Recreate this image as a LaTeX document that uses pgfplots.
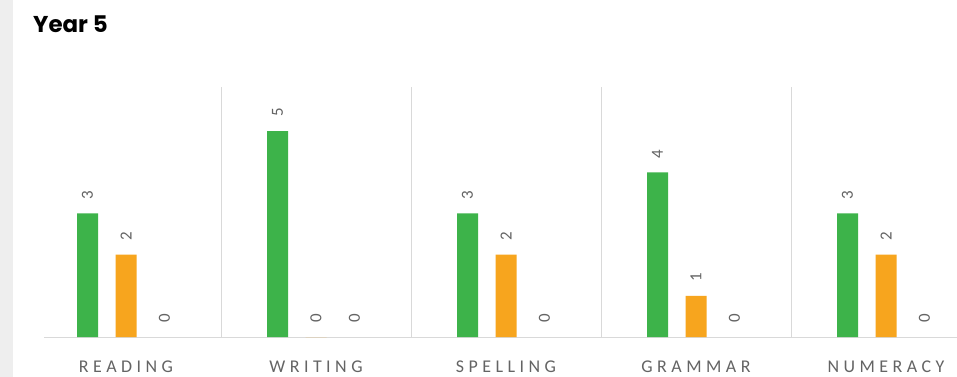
\documentclass[border=0pt]{standalone}
\usepackage{pgfplots}
\pgfplotsset{compat=1.18}
\usepackage{fontspec}
\setmainfont{Carlito}
\newfontfamily\titlefont{Poppins}
\newfontfamily\catfont{Carlito}[LetterSpace=25]
\definecolor{bgreen}{RGB}{61,179,74}
\definecolor{borange}{RGB}{247,165,30}
\definecolor{lgray}{RGB}{217,217,217}
\definecolor{tgray}{RGB}{100,100,100}
\definecolor{strip}{RGB}{238,238,238}
\begin{document}
\begin{tikzpicture}
\fill[white] (0,0) rectangle (957bp,377bp);
\fill[strip] (0,0) rectangle (12.5bp,377bp);
\node[anchor=base west, inner sep=0pt] at (33bp,344bp) {\titlefont\bfseries\fontsize{23}{23}\selectfont Year 5};
\begin{axis}[
  at={(44bp,40bp)}, anchor=south west,
  scale only axis, width=913bp, height=250bp,
  xmin=-0.4316, xmax=4.3737, ymin=0, ymax=6.07,
  ybar=17.5bp, bar width=21bp,
  axis x line*=bottom, axis y line=none,
  x axis line style={lgray, line width=1bp},
  xtick={0,1,2,3,4},
  xticklabels={READING,WRITING,SPELLING,GRAMMAR,NUMERACY},
  major tick length=0pt, minor tick length=0pt,
  minor xtick={0.5,1.5,2.5,3.5}, xminorgrids,
  minor grid style={lgray, line width=1bp},
  xticklabel style={font=\catfont\fontsize{18}{18}\selectfont, text=tgray, anchor=base, yshift=-35bp},
  /pgf/number format/assume math mode=true,
  every node near coord/.append style={rotate=90, anchor=west, inner xsep=14bp, inner ysep=0pt, text=tgray, font=\fontsize{17}{17}\selectfont},
  nodes near coords={\pgfmathprintnumber[assume math mode=true]{\pgfplotspointmeta}},
  clip=false,
]
\addplot[draw=none, fill=bgreen] coordinates {(0,3) (1,5) (2,3) (3,4) (4,3)};
\addplot[draw=none, fill=borange] coordinates {(0,2) (1,0) (2,2) (3,1) (4,2)};
\addplot[draw=none, fill=none] coordinates {(0,0) (1,0) (2,0) (3,0) (4,0)};
\end{axis}
\pgfresetboundingbox
\useasboundingbox (0,0) rectangle (957bp,377bp);
\end{tikzpicture}
\end{document}
